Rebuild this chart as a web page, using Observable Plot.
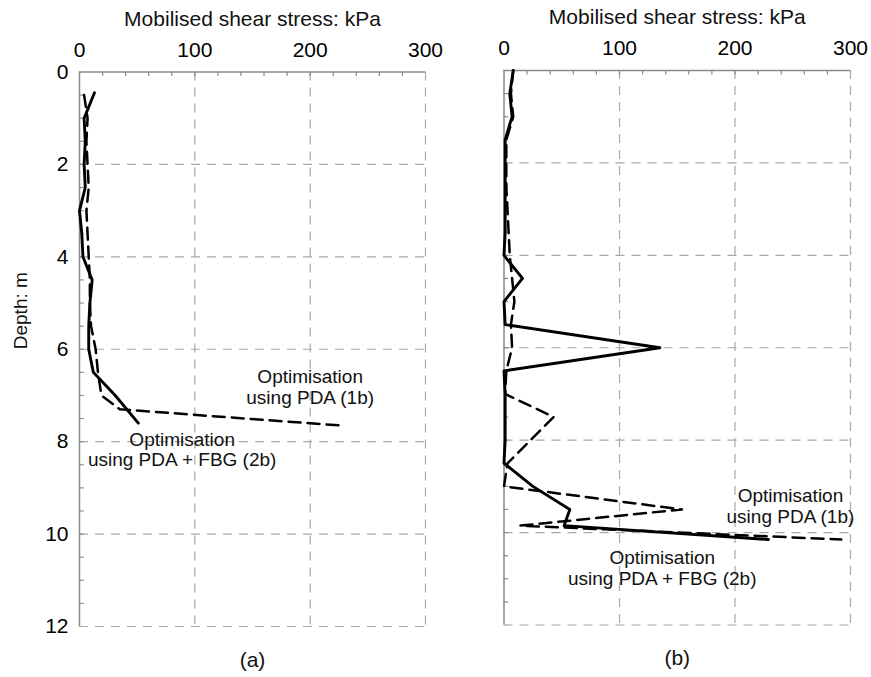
<!DOCTYPE html>
<html>
<head>
<meta charset="utf-8">
<script src="https://cdn.jsdelivr.net/npm/d3@7"></script>
<script src="https://cdn.jsdelivr.net/npm/@observablehq/plot@0.6"></script>
<style>
  html, body { margin: 0; padding: 0; background: #fff; }
  #chart { position: relative; width: 871px; height: 677px; overflow: hidden; }
  #chart svg { position: absolute; top: 0; }
</style>
</head>
<body>
<div id="chart"></div>
<script>
// ---- Panel (a): mobilised shear stress vs depth ----
const aDepthPDA   = [0.5, 1.0, 1.5, 2.0, 2.5, 3.0, 3.5, 4.0, 4.5, 5.0, 5.5, 6.0, 6.5, 7.0, 7.3, 7.65];
const aStressPDA  = [4, 7, 6, 7, 8, 6, 7, 8, 9, 9, 10, 14, 16, 19, 35, 226];
const aDepthFBG   = [0.45, 1.0, 1.5, 2.0, 2.5, 3.0, 3.5, 4.0, 4.5, 5.0, 5.5, 6.0, 6.5, 7.0, 7.6];
const aStressFBG  = [13, 4, 5, 4, 5, 0, 2, 3, 11, 9, 8, 8, 12, 31, 51];

// ---- Panel (b) ----
const bDepthPDA   = [0, 0.5, 1.0, 1.5, 2.0, 2.5, 3.0, 3.5, 4.0, 4.5, 5.0, 5.5, 6.0, 6.5, 7.0, 7.5, 8.5, 9.0, 9.5, 9.85, 10.15];
const bStressPDA  = [8, 6, 8, 2, 2, 2, 3, 4, 5, 7, 9, 6, 7, 2, 1, 43, 3, 0, 154, 14, 292];
const bDepthFBG   = [0, 0.5, 1.0, 1.5, 2.0, 2.5, 3.0, 3.5, 4.0, 4.5, 5.0, 5.5, 6.0, 6.5, 7.0, 7.5, 8.0, 8.5, 9.0, 9.5, 9.85, 10.15];
const bStressFBG  = [8, 5, 7, 1, 1, 1, 1, 1, 0, 16, 0, 1, 135, 0, 1, 1, 1, 0, 25, 57, 52, 229];

// ---- Axis ticks and text ----
const stressTicks = [0, 100, 200, 300];
const depthTicks  = [0, 2, 4, 6, 8, 10, 12];
const gridStress  = [100, 200, 300];
const gridDepth   = [2, 4, 6, 8, 10, 12];
const minorStress = d3.range(20, 300, 20);
const minorDepth  = d3.range(0.5, 12, 0.5);
const xTitle = "Mobilised shear stress: kPa";
const yTitle = "Depth: m";
const labelPDA = "Optimisation\nusing PDA (1b)";
const labelFBG = "Optimisation\nusing PDA + FBG (2b)";

const zip = (depth, stress) => depth.map((d, i) => ({depth: d, stress: stress[i]}));

const FONT = "'Liberation Sans', Arial, Helvetica, sans-serif";
const gridStyle = {stroke: "#a8a8a8", strokeWidth: 1.2, strokeDasharray: "9,7"};
const spineStyle = {stroke: "#8a8a8a", strokeWidth: 1.5};

function panel({left, width, mLeft, mRight, mTop, mBottom, pda, fbg, caption, showDepth, notes}) {
  const marks = [
    Plot.ruleX(gridStress, gridStyle),
    Plot.ruleY(gridDepth, gridStyle),
    Plot.ruleX(minorStress, {y1: 0, y2: 0.1, ...spineStyle, strokeWidth: 1.2}),
    Plot.ruleY(minorDepth, {x1: 0, x2: 4, ...spineStyle, strokeWidth: 1.2}),
    Plot.ruleX([0], spineStyle),
    Plot.ruleY([0], spineStyle),
    Plot.line(pda, {x: "stress", y: "depth", stroke: "#000", strokeWidth: 2.5, strokeDasharray: "12,7"}),
    Plot.line(fbg, {x: "stress", y: "depth", stroke: "#000", strokeWidth: 2.9}),
    // top tick labels and axis title
    Plot.text(stressTicks, {x: d => d, frameAnchor: "top", dy: -30, fontSize: 21, fill: "#000"}),
    Plot.text([xTitle], {frameAnchor: "top", dy: -61, fontSize: 21, fill: "#111"}),
    Plot.text([caption], {frameAnchor: "bottom", dy: 40, fontSize: 21, fill: "#111"}),
    ...notes.map(n => Plot.text([n.text], {x: n.x, y: n.y, fontSize: 19, lineHeight: 1.08, fill: "#111"}))
  ];
  if (showDepth) {
    marks.push(
      Plot.text(depthTicks, {y: d => d, frameAnchor: "left", dx: -11, textAnchor: "end", fontSize: 21, fill: "#000"}),
      Plot.text([yTitle], {frameAnchor: "left", rotate: -90, dx: -59, fontSize: 19, fill: "#111"})
    );
  }
  const svg = Plot.plot({
    width, height: 677,
    marginLeft: mLeft, marginRight: mRight, marginTop: mTop, marginBottom: mBottom,
    style: {fontFamily: FONT, background: "transparent", overflow: "visible"},
    x: {domain: [0, 300], axis: null},
    y: {domain: [0, 12], reverse: true, axis: null},
    marks
  });
  svg.style.left = left + "px";
  return svg;
}

const chart = document.getElementById("chart");
chart.append(panel({
  left: 0, width: 440, mLeft: 79, mRight: 15, mTop: 71.5, mBottom: 51,
  pda: zip(aDepthPDA, aStressPDA), fbg: zip(aDepthFBG, aStressFBG),
  caption: "(a)", showDepth: true,
  notes: [
    {text: labelPDA, x: 200, y: 6.82},
    {text: labelFBG, x: 89, y: 8.17}
  ]
}));
chart.append(panel({
  left: 440, width: 431, mLeft: 63.5, mRight: 21, mTop: 70, mBottom: 52.5,
  pda: zip(bDepthPDA, bStressPDA), fbg: zip(bDepthFBG, bStressFBG),
  caption: "(b)", showDepth: false,
  notes: [
    {text: labelPDA, x: 248, y: 9.42},
    {text: labelFBG, x: 137, y: 10.77}
  ]
}));
</script>
</body>
</html>
